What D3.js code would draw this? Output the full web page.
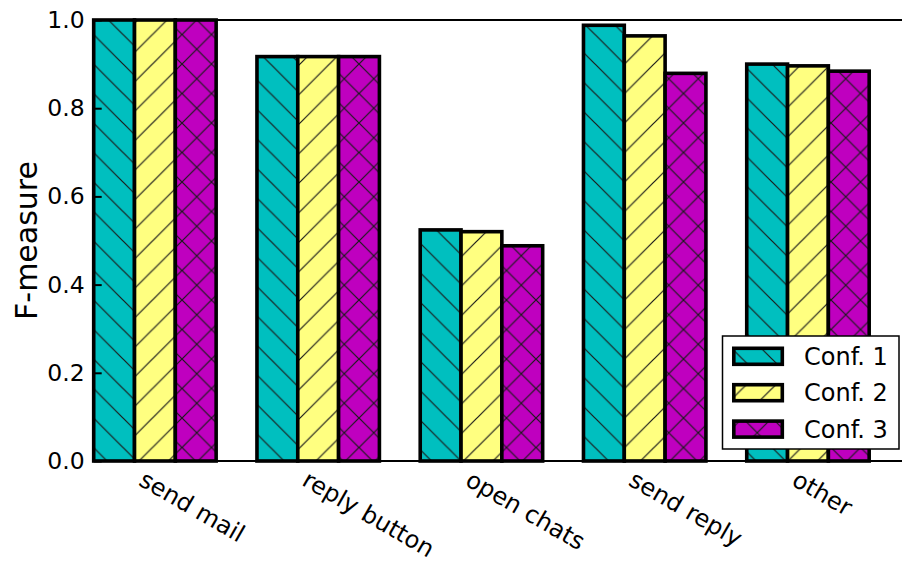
<!DOCTYPE html>
<html>
<head>
<meta charset="utf-8">
<script src="https://cdn.jsdelivr.net/npm/d3@7"></script>
<style>
  html, body { margin: 0; padding: 0; background: #fff; }
  svg { display: block; font-family: "DejaVu Sans", sans-serif; }
</style>
</head>
<body>
<svg id="chart" width="902" height="565"></svg>
<script>
// F-measure per action class, three configurations
const categories = ["send mail", "reply button", "open chats", "send reply", "other"];
const seriesNames = ["Conf. 1", "Conf. 2", "Conf. 3"];
const conf1 = [1.000, 0.917, 0.524, 0.988, 0.900];
const conf2 = [1.000, 0.917, 0.520, 0.964, 0.896];
const conf3 = [1.000, 0.917, 0.488, 0.879, 0.884];
const yTicks = [0.0, 0.2, 0.4, 0.6, 0.8, 1.0];

const seriesValues = [conf1, conf2, conf3];
const colors = ["#00bfbf", "#ffff80", "#bf00bf"];
const hatches = ["back", "fwd", "cross"];
const barWidth = 0.25;

const svg = d3.select("#chart");

// scales: each group occupies one unit, bars are a quarter unit wide
const x = d3.scaleLinear().domain([0, 5]).range([93.7, 910]);
const y = d3.scaleLinear().domain([0, 1]).range([461, 20]);

// hatch patterns, tiled in page space so neighbouring bars line up
const S = 29.5;
const defs = svg.append("defs");
seriesNames.forEach((name, i) => {
  const p = defs.append("pattern")
    .attr("id", "hatch" + i)
    .attr("patternUnits", "userSpaceOnUse")
    .attr("x", 5).attr("y", 5)
    .attr("width", S).attr("height", S);
  p.append("rect").attr("width", S).attr("height", S).attr("fill", colors[i]);
  let d = "";
  const back = `M-2,-2L${S + 2},${S + 2}M${S - 2},-2L${S + 2},2M-2,${S - 2}L2,${S + 2}`;
  const fwd = `M-2,${S + 2}L${S + 2},-2M-2,2L2,-2M${S - 2},${S + 2}L${S + 2},${S - 2}`;
  if (hatches[i] === "back") d = back;
  else if (hatches[i] === "fwd") d = fwd;
  else d = back + fwd;
  p.append("path").attr("d", d)
    .attr("stroke", "#1a1a1a").attr("stroke-width", 1.2).attr("fill", "none");
});

// bars
const barLayer = svg.append("g");
seriesValues.forEach((vals, si) => {
  barLayer.selectAll(null)
    .data(vals)
    .enter().append("rect")
    .attr("x", (d, ci) => x(ci + si * barWidth))
    .attr("width", (d, ci) => x(ci + (si + 1) * barWidth) - x(ci + si * barWidth))
    .attr("y", d => y(d))
    .attr("height", d => y(0) - y(d))
    .attr("fill", `url(#hatch${si})`)
    .attr("stroke", "#000")
    .attr("stroke-width", 3.6)
    .attr("stroke-linejoin", "miter");
});

// spines
const [x0, x1] = x.range();
const spines = svg.append("g").attr("stroke", "#000").attr("stroke-width", 2.2);
spines.append("line").attr("x1", x0).attr("x2", x0).attr("y1", y(1)).attr("y2", y(0));
spines.append("line").attr("x1", x0).attr("x2", x1).attr("y1", y(0)).attr("y2", y(0));
spines.append("line").attr("x1", x0).attr("x2", x1).attr("y1", y(1)).attr("y2", y(1));
spines.append("line").attr("x1", x1).attr("x2", x1).attr("y1", y(1)).attr("y2", y(0));

// y axis with inward ticks
const yAxis = d3.axisLeft(y)
  .tickValues(yTicks)
  .tickFormat(d3.format(".1f"))
  .tickSizeInner(-8)
  .tickSizeOuter(0)
  .tickPadding(9);
const gy = svg.append("g").attr("transform", `translate(${x0},0)`).call(yAxis);
gy.select(".domain").remove();
gy.selectAll(".tick line").attr("stroke", "#000").attr("stroke-width", 2);
gy.selectAll(".tick text")
  .attr("font-size", 23.5)
  .attr("font-family", "DejaVu Sans, sans-serif")
  .attr("fill", "#000");

// x axis: labels start at the boundary between first and second bar, slanted
const xAxis = d3.axisBottom(x)
  .tickValues(categories.map((c, i) => i + barWidth))
  .tickFormat((d, i) => categories[i])
  .tickSize(0)
  .tickPadding(0);
const gx = svg.append("g").attr("transform", `translate(0,${y(0)})`).call(xAxis);
gx.select(".domain").remove();
gx.selectAll(".tick text")
  .attr("font-size", 24)
  .attr("font-family", "DejaVu Sans, sans-serif")
  .attr("fill", "#000")
  .attr("text-anchor", "start")
  .attr("dy", null)
  .attr("y", 0)
  .attr("x", 0)
  .attr("transform", "translate(2.5,23.5) rotate(30)");

// y label
svg.append("text")
  .attr("transform", `translate(37,${(y(0) + y(1)) / 2}) rotate(-90)`)
  .attr("text-anchor", "middle")
  .attr("font-size", 30)
  .attr("fill", "#000")
  .text("F-measure");

// legend, lower right
const legend = svg.append("g");
legend.append("rect")
  .attr("x", 722.5).attr("y", 336)
  .attr("width", 176.5).attr("height", 113)
  .attr("fill", "#fff")
  .attr("stroke", "#000")
  .attr("stroke-width", 1.5);
seriesNames.forEach((name, i) => {
  const cy = 356.3 + i * 36.4;
  legend.append("rect")
    .attr("x", 733.8).attr("y", cy - 8)
    .attr("width", 48.5).attr("height", 16)
    .attr("fill", `url(#hatch${i})`)
    .attr("stroke", "#000")
    .attr("stroke-width", 3.6);
  legend.append("text")
    .attr("x", 804)
    .attr("y", cy + 8.6)
    .attr("font-size", 24)
    .attr("fill", "#000")
    .text(name);
});
</script>
</body>
</html>
